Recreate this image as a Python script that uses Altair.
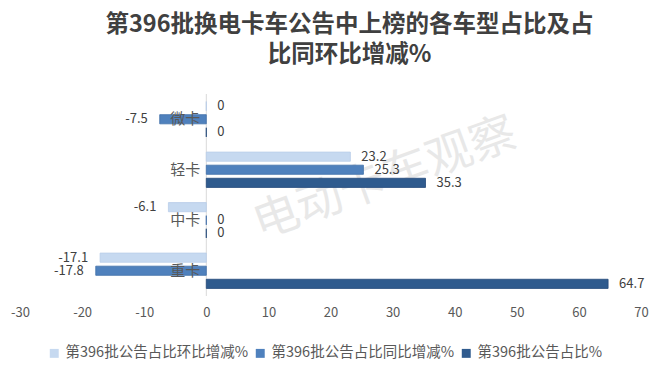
import altair as alt
import pandas as pd

categories = ["微卡", "轻卡", "中卡", "重卡"]
series = ["第396批公告占比环比增减%", "第396批公告占比同比增减%", "第396批公告占比%"]
hb = [0, 23.2, -6.1, -17.1]      # 环比增减
tb = [-7.5, 25.3, 0, -17.8]      # 同比增减
zb = [0, 35.3, 0, 64.7]          # 占比
colors = ["#C6D9F0", "#4F81BD", "#2F5B8E"]

rows = []
for s, vals in zip(series, [hb, tb, zb]):
    for c, v in zip(categories, vals):
        rows.append({"cat": c, "series": s, "value": v, "label": f"{v:g}"})
df = pd.DataFrame(rows)
cat_df = pd.DataFrame({"cat": categories})

FONT = "Noto Sans CJK SC"

y_enc = alt.Y("cat:N", sort=categories, axis=None,
              scale=alt.Scale(paddingInner=0.3, paddingOuter=0.15))
yoff = alt.YOffset("series:N", sort=series, scale=alt.Scale(paddingInner=0.3))
x_enc = alt.X("value:Q", title=None,
              scale=alt.Scale(domain=[-30, 70], nice=False),
              axis=alt.Axis(values=list(range(-30, 71, 10)), grid=False, domain=False,
                            ticks=False, labelFontSize=13, labelColor="#595959",
                            labelFont=FONT, labelPadding=10, labelFlush=False,
                            labelExpr="toString(datum.value)"))

base = alt.Chart(df)

bars = base.mark_bar(strokeWidth=0.8).encode(
    x=x_enc,
    y=y_enc,
    yOffset=yoff,
    color=alt.Color("series:N", sort=series,
                    scale=alt.Scale(domain=series, range=colors),
                    legend=alt.Legend(title=None, orient="none", legendX=27, legendY=252,
                                      direction="horizontal", symbolType="square",
                                      symbolSize=80, labelFontSize=14.5, labelFont=FONT,
                                      labelColor="#595959", columnPadding=5,
                                      symbolStrokeWidth=0, labelLimit=300)),
    stroke=alt.Color("series:N", sort=series,
                     scale=alt.Scale(domain=series, range=["#B9CDE8", "#3F6FA8", "#23497A"]),
                     legend=None),
)

zero = alt.Chart(pd.DataFrame({"z": [0]})).mark_rule(color="#D9D9D9", strokeWidth=1).encode(
    x=alt.X("z:Q", scale=alt.Scale(domain=[-30, 70], nice=False))
)

lab_pos = base.transform_filter("datum.value >= 0").mark_text(
    align="left", baseline="middle", dx=11, fontSize=13, font=FONT, color="#404040"
).encode(x="value:Q", y=y_enc, yOffset=yoff, text="label:N")

lab_neg = base.transform_filter("datum.value < 0").mark_text(
    align="right", baseline="middle", dx=-12, fontSize=13, font=FONT, color="#404040"
).encode(x="value:Q", y=y_enc, yOffset=yoff, text="label:N")

cat_labels = alt.Chart(cat_df).mark_text(
    align="right", baseline="middle", dx=-6, fontSize=15, font=FONT, color="#595959"
).encode(x=alt.datum(0), y=y_enc, text="cat:N")

watermark = alt.Chart(cat_df).transform_filter("datum.cat == '微卡'").mark_text(
    text="电动卡车观察", fontSize=46, font=FONT, angle=340, color="#BFBFBF",
    opacity=0.35, align="center", baseline="middle"
).encode(x=alt.value(365), y=alt.value(85))

chart = alt.layer(watermark, zero, bars, lab_pos, lab_neg, cat_labels).properties(
    width=621,
    height=202,
    autosize=alt.AutoSizeParams(type="none"),
    padding={"left": 12, "top": 86, "right": 11, "bottom": 72},
    title=alt.Title(["第396批换电卡车公告中上榜的各车型占比及占", "比同环比增减%"],
                    fontSize=23.5, font=FONT, fontWeight="bold", color="#404040",
                    anchor="middle", offset=27, lineHeight=30, dx=19),
).resolve_scale(color="independent").configure_view(stroke=None)

chart.save("out.html", embed_options={"renderer": "svg", "actions": False})
